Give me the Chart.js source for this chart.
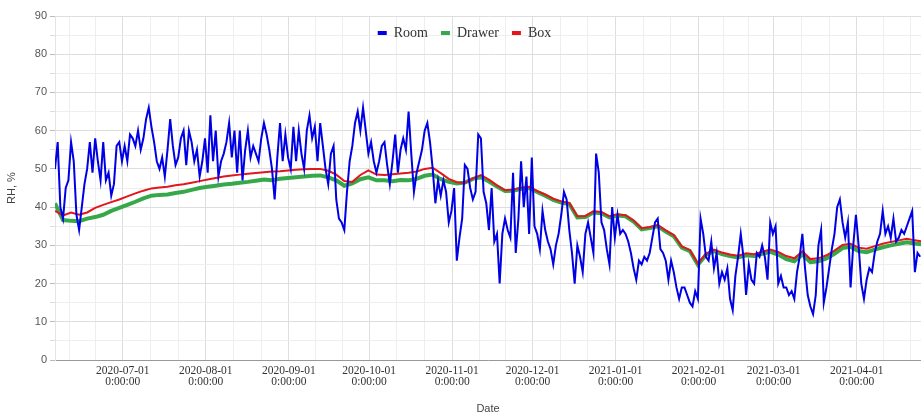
<!DOCTYPE html>
<html>
<head>
<meta charset="utf-8">
<script src="https://cdn.jsdelivr.net/npm/chart.js@4"></script>
<style>
  html, body { margin: 0; padding: 0; background: #fff; }
  #wrap { width: 921px; height: 416px; }
</style>
</head>
<body>
<div id="wrap"><canvas id="rhChart" width="921" height="416"></canvas></div>
<script>
// first reading (x = 55px left edge) and sampling steps, in days
const startDate = Date.UTC(2020, 5, 5, 17);
const endDate = Date.UTC(2021, 3, 25, 0);
const DAY = 86400000;

// Room RH, one reading per day
const roomRH = [
  50, 57, 40, 37, 45, 47, 57, 52, 38, 34,
  40, 46, 50, 57, 49, 58, 52, 47, 57, 47,
  49, 43, 46, 56, 57, 52, 56, 52, 59, 58,
  56, 60, 55, 58, 63, 66, 61, 57, 52, 50,
  53, 48, 55, 63, 56, 51, 53, 58, 60, 51,
  60, 57, 52, 55, 48, 52, 58, 49, 64, 52,
  60, 48, 52, 54, 57, 62, 53, 60, 49, 60,
  47, 55, 60, 53, 56, 54, 52, 58, 62, 59,
  55, 50, 42, 53, 62, 52, 59, 53, 50, 61,
  52, 60, 54, 50, 60, 64, 58, 61, 52, 62,
  56, 50, 46, 54, 56, 42, 37, 36, 34, 44,
  52, 56, 62, 65, 60, 66, 60, 54, 57, 52,
  49, 52, 56, 57, 51, 46, 52, 59, 49, 55,
  58, 55, 65, 54, 44, 49, 52, 55, 60, 62,
  57, 50, 41, 47, 43, 47, 44, 36, 39, 45,
  26, 32, 37, 51, 50, 45, 42, 44, 59, 58,
  44, 41, 34, 45, 31, 33, 20, 33, 37, 34,
  32, 49, 28, 37, 52, 40, 48, 33, 53, 35,
  33, 29, 39, 34, 31, 29, 25, 30, 33, 38,
  44, 42, 34, 28, 20, 30, 27, 23, 33, 36,
  32, 28, 54, 49, 36, 34, 29, 25, 40, 32,
  38, 33, 34, 33, 31, 28, 24, 21, 26, 25,
  27, 26, 28, 32, 36, 37, 29, 28, 26, 21,
  26, 23, 19, 16, 19, 19, 17, 15, 14, 18,
  16, 37, 33, 27, 26, 31, 24, 28, 20, 23,
  21, 24, 16, 13, 22, 27, 33, 27, 17, 25,
  21, 20, 28, 27, 30, 27, 21, 36, 33, 35,
  20, 22, 19, 19, 17, 18, 16, 23, 27, 33,
  24, 17, 14, 12, 17, 30, 34, 15, 19, 24,
  29, 33, 40, 42, 36, 32, 36, 19, 30, 38,
  30, 20, 16, 21, 24, 23, 28, 31, 33, 39,
  33, 35, 32, 37, 31, 32, 34, 33, 35, 37,
  39, 23, 28, 27
];

// Drawer and Box RH, one reading every 3 days
const drawerRH = [
  41, 36.6, 36.4, 36.3, 37, 37.4, 38, 39, 39.8, 40.6,
  41.4, 42.3, 43, 43.2, 43.3, 43.7, 44, 44.5, 45, 45.3,
  45.6, 45.9, 46.1, 46.4, 46.6, 46.9, 47.2, 47, 47.4, 47.6,
  47.8, 48, 48.2, 48.3, 47.8, 47, 45.6, 46.2, 47.3, 47.8,
  47, 47, 46.8, 47.1, 47, 47.4, 48.2, 48.5, 47.3, 46.6,
  46.2, 46.4, 47.4, 47.8, 46.7, 45.4, 44.2, 44.3, 44.8, 45,
  44, 43, 41.9, 41.2, 40.8, 37.3, 37.4, 38.6, 38.4, 37.3,
  37.8, 37.6, 36.2, 34.2, 34.5, 35, 33.6, 32.4, 29.4, 28.5,
  24.9, 27.5, 28.5, 27.7, 27.2, 26.8, 27.4, 27.2, 27.8, 28.3,
  27.6, 26.4, 25.8, 27.6, 25.6, 25.8, 26.6, 27.8, 29.3, 29.6,
  28.5, 28.2, 28.9, 29.5, 30, 30.4, 30.8, 30.5, 30.2
];
const boxRH = [
  39, 37.8, 38.6, 38, 38.6, 39.8, 40.6, 41.3, 42, 42.8,
  43.6, 44.3, 44.9, 45.1, 45.3, 45.7, 46, 46.4, 46.8, 47.2,
  47.6, 48, 48.3, 48.5, 48.7, 48.9, 49.1, 49.3, 49.4, 49.6,
  49.8, 49.9, 50, 50, 49.5, 48.5, 46.8, 46.6, 48.4, 49.6,
  48.5, 48.4, 48.6, 48.8, 49, 49.3, 50, 50.3, 48.9, 47.4,
  46.5, 46.3, 47.5, 48.4, 47.2, 45.7, 44.4, 44.6, 45.1, 45.3,
  44.2, 43.3, 42.2, 41.5, 41.1, 37.6, 37.7, 38.9, 38.7, 37.6,
  38.1, 37.9, 36.5, 34.5, 34.8, 35.3, 33.9, 32.7, 29.7, 28.8,
  25.2, 27.8, 28.9, 28.1, 27.6, 27.3, 27.9, 27.7, 28.3, 28.9,
  28.3, 27.2, 26.6, 28.4, 26.4, 26.6, 27.4, 28.6, 30.1, 30.4,
  29.4, 29.1, 29.8, 30.4, 30.9, 31.3, 31.7, 31.3, 31
];

// month ticks (labelled) and y ticks
const monthStarts = [
  '2020-06-01', '2020-07-01', '2020-08-01', '2020-09-01', '2020-10-01', '2020-11-01',
  '2020-12-01', '2021-01-01', '2021-02-01', '2021-03-01', '2021-04-01', '2021-05-01'
];
const yMax = 90;
const yStep = 5;

const toPoints = (arr, stepDays) => arr.map((v, i) => ({ x: startDate + i * stepDays * DAY, y: v }));

// majors at month starts, two minor lines splitting each month in thirds
const majorTicks = monthStarts.map(s => Date.parse(s + 'T00:00:00Z'));
const xTicks = [];
for (let i = 0; i < majorTicks.length - 1; i++) {
  const a = majorTicks[i], b = majorTicks[i + 1];
  [a, a + (b - a) / 3, a + 2 * (b - a) / 3].forEach(t => {
    if (t >= startDate && t <= endDate) xTicks.push(t);
  });
}
const isMajor = v => majorTicks.includes(v);

const fmtDate = v => new Date(v).toISOString().slice(0, 10);

// move the legend down inside the plot area, like the original
const legendInside = {
  id: 'legendInside',
  afterLayout(chart) {
    const lg = chart.legend;
    const h = lg.bottom - lg.top;
    lg.top = 13;
    lg.bottom = 13 + h;
    lg.left += 4;
    lg.right += 4;
  }
};

new Chart(document.getElementById('rhChart'), {
  type: 'line',
  data: {
    datasets: [
      {
        label: 'Room',
        data: toPoints(roomRH, 1),
        borderColor: '#0000e6',
        backgroundColor: '#0000e6',
        borderWidth: 2,
        order: 0
      },
      {
        label: 'Drawer',
        data: toPoints(drawerRH, 3),
        borderColor: '#37a84a',
        backgroundColor: '#37a84a',
        borderWidth: 4,
        order: 2
      },
      {
        label: 'Box',
        data: toPoints(boxRH, 3),
        borderColor: '#e3161c',
        backgroundColor: '#e3161c',
        borderWidth: 2,
        order: 1
      }
    ]
  },
  options: {
    responsive: false,
    animation: false,
    layout: { padding: { top: -21, right: 0, left: 0, bottom: 0 } },
    elements: { point: { radius: 0 }, line: { tension: 0 } },
    plugins: {
      tooltip: { enabled: false },
      legend: {
        position: 'top',
        labels: {
          boxWidth: 9,
          boxHeight: 4,
          padding: 13,
          color: '#333',
          font: { family: '"Liberation Serif", "Times New Roman", serif', size: 14 },
          sort: (a, b) => a.datasetIndex - b.datasetIndex,
          generateLabels(chart) {
            return Chart.defaults.plugins.legend.labels.generateLabels(chart)
              .map(item => ({ ...item, lineWidth: 0, fillStyle: item.strokeStyle }));
          }
        }
      }
    },
    scales: {
      x: {
        type: 'linear',
        min: startDate,
        max: endDate,
        afterBuildTicks(scale) { scale.ticks = xTicks.map(v => ({ value: v })); },
        afterFit(scale) { scale.height = 56; },
        ticks: {
          autoSkip: false,
          maxRotation: 0,
          padding: 6,
          color: '#333',
          font: { family: '"Liberation Serif", "Times New Roman", serif', size: 11.5, lineHeight: 0.95 },
          callback: v => isMajor(v) ? [fmtDate(v), '0:00:00'] : ''
        },
        grid: {
          drawTicks: false,
          color: ctx => (ctx.tick && isMajor(ctx.tick.value)) ? '#dedede' : '#eeeeee'
        },
        border: { color: '#999', width: 1 },
        title: {
          display: true,
          text: 'Date',
          color: '#444',
          padding: { top: 0, bottom: 0 },
          font: { family: '"Liberation Sans", Arial, sans-serif', size: 11 }
        }
      },
      y: {
        min: 0,
        max: yMax,
        afterFit(scale) { scale.width = 55; },
        ticks: {
          stepSize: yStep,
          padding: 3,
          color: '#555',
          font: { family: '"Liberation Sans", Arial, sans-serif', size: 11 },
          callback: v => v % 10 === 0 ? v : ''
        },
        grid: {
          tickLength: 5,
          color: ctx => ctx.tick.value % 10 === 0 ? '#dedede' : '#eeeeee',
          tickColor: ctx => ctx.tick.value % 10 === 0 ? '#bbbbbb' : '#dddddd'
        },
        border: { color: '#e4e4e4' },
        title: {
          display: true,
          text: 'RH, %',
          color: '#444',
          padding: { top: 5, bottom: 4 },
          font: { family: '"Liberation Sans", Arial, sans-serif', size: 11 }
        }
      }
    }
  },
  plugins: [legendInside]
});
</script>
</body>
</html>
